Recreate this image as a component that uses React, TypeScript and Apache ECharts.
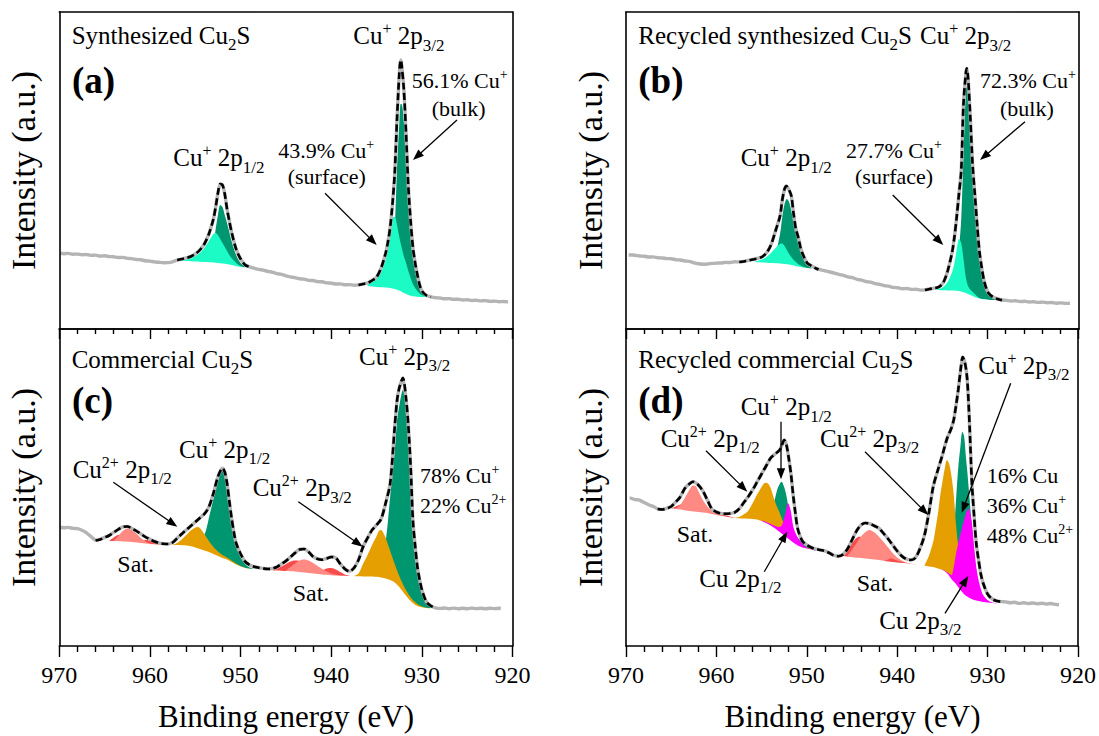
import React, { useEffect, useRef } from "react";
import * as echarts from "echarts";

// ---------- DATA (energy eV, intensity in arbitrary units) ----------
// Panel (a) Synthesized Cu2S
const A_raw = [[969.9,75.7],[969.5,75.3],[969,75.6],[968.5,74.8],[968,74.9],[967.5,74.2],[967,74.5],[966.5,73.6],[966,73.9],[965.5,72.9],[965,73.2],[964.5,72.4],[964,72.3],[963.5,71.5],[963,71.6],[962.5,70.6],[962,70.4],[961.5,69.5],[961,69.3],[960.5,68.2],[960,67.9],[959.5,67.1],[959,66.7],[958.5,66.3],[958,66.4],[957.5,67.2],[957,68.8],[956.5,69.9],[956,71.1],[955.5,72.4],[955,75.2],[954.5,79.1],[954,85.2],[953.5,95.1],[953,110.2],[952.75,122.1],[952.5,136.2],[952.25,145.1],[952,144.2],[951.75,135.1],[951.5,120.2],[951.25,108.1],[951,97.2],[950.5,80.1],[950,70.2],[949.5,64.3],[949,62.1],[948.5,60.8],[948,59.6],[947.5,58.9],[947,57.6],[946.5,56.9],[946,55.4],[945.5,54.6],[945,53.2],[944.5,52.1],[944,51.3],[943.5,50.2],[943,49.8],[942.5,48.6],[942,48.5],[941.5,47.4],[941,47.2],[940.5,46.1],[940,45.8],[939.5,45.0],[939,45.1],[938.5,44.2],[938,44.4],[937.5,43.8],[937,44.1],[936.5,45.1],[936,46.1],[935.5,48.6],[935,52.1],[934.5,61.1],[934,76.1],[933.75,87.1],[933.5,102.1],[933.25,125.1],[933,156.1],[932.75,210.2],[932.5,255.1],[932.35,269.1],[932.25,265.1],[932,240.2],[931.75,195.1],[931.5,142.1],[931.25,108.1],[931,82.1],[930.75,66.1],[930.5,54.1],[930.25,44.2],[930,38.1],[929.5,33.6],[929,32.1],[928.5,31.2],[928,31.0],[927.5,30.2],[927,30.4],[926.5,29.6],[926,29.8],[925.5,29.0],[925,29.3],[924.5,28.5],[924,28.8],[923.5,28.1],[923,28.4],[922.5,27.6],[922,27.9],[921.5,27.3],[921,27.5],[920.5,27.1]];
const A_bg1 = [[957,68.5],[956,68],[955,67.5],[954,67],[953,66.5],[952.5,66],[952,65.5],[951.5,65],[951,64],[950.5,63],[950,62],[949.5,61.5],[949,61]];
const A_env1 = [[957,69],[956.5,70],[956,71],[955.5,72.5],[955,75],[954.5,79],[954,85],[953.5,95],[953,110],[952.75,122],[952.5,136],[952.25,145],[952,144],[951.75,135],[951.5,120],[951.25,108],[951,97],[950.5,80],[950,70],[949.5,64],[949,62]];
const A_surf1 = [[956.5,68.3],[956,69.5],[955.5,71],[955,73],[954.5,76],[954,81],[953.5,88],[953,95],[952.75,96],[952.5,94],[952.25,90],[952,86],[951.75,82],[951.5,78],[951.25,74],[951,71],[950.5,66],[950,63],[949.5,61.5]];
const A_bulk1 = [[954,67],[953.5,72],[953,84],[952.75,100],[952.5,114],[952.25,124],[952,122],[951.75,114],[951.5,106],[951.25,97],[951,88],[950.5,74],[950,66],[949.5,62]];
const A_bg2 = [[937,44],[936,43],[935,42],[934,41.5],[933.5,41],[933,40],[932.5,38.5],[932,36],[931.5,34],[931,32.8],[930.5,32.3],[930,32],[929,31.8]];
const A_env2 = [[937,44],[936.5,45],[936,46],[935.5,48.5],[935,52],[934.5,61],[934,76],[933.75,87],[933.5,102],[933.25,125],[933,156],[932.75,210],[932.5,255],[932.35,269],[932.25,265],[932,240],[931.75,195],[931.5,142],[931.25,108],[931,82],[930.75,66],[930.5,54],[930.25,44],[930,38],[929.5,33.5],[929,32]];
const A_surf2 = [[936,45],[935.5,47],[935,50],[934.5,57],[934,70],[933.75,82],[933.5,98],[933.25,112],[933,112],[932.75,104],[932.5,92],[932.25,82],[932,73],[931.75,66],[931.5,58],[931.25,51],[931,45],[930.75,41],[930.5,38],[930.25,35.5],[930,34],[929.5,32.5]];
const A_bulk2 = [[934,41.5],[933.5,58],[933.25,74],[933,100],[932.75,160],[932.5,205],[932.35,225],[932.25,225],[932,208],[931.75,168],[931.5,122],[931.25,92],[931,71],[930.75,58],[930.5,48],[930.25,40],[930,36],[929.5,33]];

// Panel (b) Recycled synthesized Cu2S
const B_raw = [[969.7,74.2],[969.5,74.0],[969,73.8],[968.5,73.0],[968,72.8],[967.5,72.0],[967,72.1],[966.5,71.2],[966,71.0],[965.5,70.4],[965,70.3],[964.5,69.3],[964,69.0],[963.5,68.0],[963,67.6],[962.5,66.2],[962,65.3],[961.5,64.8],[961,65.0],[960.5,65.6],[960,65.9],[959.5,66.0],[959,66.6],[958.5,66.5],[958,67.2],[957.5,67.1],[957,67.6],[956.5,68.6],[956,69.6],[955.5,70.6],[955,72.1],[954.5,76.1],[954,84.1],[953.5,98.1],[953,113.1],[952.75,129.1],[952.5,140.1],[952.3,143.1],[952,139.1],[951.75,133.1],[951.5,115.1],[951.25,100.1],[951,92.1],[950.75,82.1],[950.5,75.1],[950,66.1],[949.5,63.1],[949,60.6],[948.5,59.2],[948,58.1],[947.5,57.0],[947,55.9],[946.5,54.6],[946,53.6],[945.5,52.1],[945,51.3],[944.5,49.7],[944,48.9],[943.5,47.5],[943,46.8],[942.5,45.4],[942,44.7],[941.5,43.4],[941,42.8],[940.5,41.6],[940,41.2],[939.5,40.3],[939,40.5],[938.5,39.6],[938,39.7],[937.5,38.9],[937,39.1],[936.5,40.1],[936,40.9],[935.5,41.9],[935,46.1],[934.5,58.1],[934,77.1],[933.75,92.1],[933.5,112.1],[933.25,135.1],[933,158.1],[932.75,225.1],[932.5,255.1],[932.4,260.6],[932.25,252.1],[932,212.1],[931.75,165.1],[931.5,135.1],[931.25,105.1],[931,78.1],[930.75,62.1],[930.5,49.1],[930.25,41.1],[930,36.1],[929.5,32.1],[929,30.1],[928.5,29.0],[928,28.6],[927.5,28.0],[927,28.2],[926.5,27.4],[926,27.7],[925.5,27.0],[925,27.3],[924.5,26.6],[924,26.9],[923.5,26.2],[923,26.5],[922.5,25.8],[922,26.1],[921.5,25.6],[921,25.8]];
const B_bg1 = [[957.5,67],[956,67],[955,66.5],[954,66],[953,65.5],[952.5,65],[952,64.5],[951.5,63.5],[951,62.5],[950.5,61.5],[950,61],[949.5,60.5],[949,60],[948.75,59.5]];
const B_env1 = [[957.5,67],[957,67.5],[956.5,68.5],[956,69.5],[955.5,70.5],[955,72],[954.5,76],[954,84],[953.5,98],[953,113],[952.75,129],[952.5,140],[952.3,143],[952,139],[951.75,133],[951.5,115],[951.25,100],[951,92],[950.75,82],[950.5,75],[950,66],[949.5,63],[949,60.5],[948.75,59.5]];
const B_surf1 = [[956,67],[955.5,68],[955,69.5],[954.5,72],[954,76],[953.5,81],[953,85],[952.75,85.5],[952.5,83],[952.25,79],[952,75],[951.75,72],[951.5,69],[951.25,67],[951,65],[950.5,62.5],[950,61]];
const B_bulk1 = [[954,66.5],[953.5,75],[953,95],[952.75,112],[952.5,125],[952.25,130],[952,127],[951.75,118],[951.5,108],[951.25,98],[951,88],[950.75,79],[950.5,72],[950,64],[949.5,61]];
const B_bg2 = [[937,39],[936,39],[935,38.8],[934,38.5],[933.5,38.2],[933,37.5],[932.5,36],[932,34],[931.5,32],[931,30.5],[930.5,29.8],[930,29.3],[929.5,29],[929,28.8],[928.5,28.6]];
const B_env2 = [[937,39],[936.5,40],[936,40.8],[935.5,41.8],[935,46],[934.5,58],[934,77],[933.75,92],[933.5,112],[933.25,135],[933,158],[932.75,225],[932.5,255],[932.4,260.7],[932.25,252],[932,212],[931.75,165],[931.5,135],[931.25,105],[931,78],[930.75,62],[930.5,49],[930.25,41],[930,36],[929.5,32],[929,30],[928.5,28.8]];
const B_surf2 = [[936.5,39],[936,39.2],[935.5,40],[935,42],[934.5,47],[934,57],[933.75,66],[933.5,79],[933.25,90],[933,86],[932.75,70],[932.5,52],[932.25,43],[932,39.5],[931.5,35],[931,31],[930.5,29.8],[930,29.3]];
const B_bulk2 = [[934,38.5],[933.5,60],[933.25,80],[933,110],[932.75,175],[932.5,236],[932.4,242],[932.25,240],[932,205],[931.75,160],[931.5,128],[931.25,100],[931,76],[930.75,60],[930.5,47],[930.25,39],[930,35],[929.5,31],[929,29.5]];

// Panel (c) Commercial Cu2S
const C_raw = [[969.9,118.7],[969.5,118.2],[969,118.6],[968.5,117.6],[968,117.3],[967.5,115.8],[967,113.2],[966.5,109.4],[966,105.9],[965.5,106.6],[965,108.6],[964.5,110.6],[964,113.6],[963.5,116.6],[963,119.1],[962.5,119.6],[962,117.6],[961.5,115.1],[961,112.1],[960.5,109.1],[960,106.8],[959.5,104.6],[959,103.1],[958.5,102.3],[958,102.1],[957.5,103.6],[957,107.8],[956.5,112.1],[956,116.1],[955.5,120.1],[955,124.1],[954.5,128.1],[954,132.1],[953.5,139.1],[953,152.8],[952.5,169.4],[952,177.8],[951.75,174.1],[951.5,162.8],[951.25,145.1],[951,128.1],[950.75,114.1],[950.5,103.1],[950,92.1],[949.5,84.4],[949,81.1],[948.5,79.4],[948,78.4],[947.5,77.6],[947,77.1],[946.5,77.6],[946,79.1],[945.5,82.1],[945,85.1],[944.5,89.1],[944,93.1],[943.5,96.6],[943,97.1],[942.5,94.1],[942,89.4],[941.5,87.1],[941,86.4],[940.5,87.6],[940,89.1],[939.5,88.1],[939,82.1],[938.5,77.1],[938,74.6],[937.5,78.1],[937,86.1],[936.5,99.1],[936,108.1],[935.5,116.1],[935,121.1],[934.5,127.1],[934,143.1],[933.5,162.8],[933,219.4],[932.75,245.1],[932.5,258.1],[932.1,268.1],[931.75,247.1],[931.5,220.1],[931.25,180.1],[931,126.1],[930.75,100.1],[930.5,79.1],[930.25,66.1],[930,56.1],[929.5,44.1],[929,40.1],[928.5,38.2],[928,37.6],[927.5,38.0],[927,37.3],[926.5,37.9],[926,37.2],[925.5,37.8],[925,37.3],[924.5,37.9],[924,37.4],[923.5,37.7],[923,37.2],[922.5,37.8],[922,37.4],[921.5,37.7],[921.3,37.5]];
const C_env = [[966,105.5],[965.5,106.5],[965,108.5],[964.5,110.5],[964,113.5],[963.5,116.5],[963,119],[962.5,119.5],[962,117.5],[961.5,115],[961,112],[960.5,109],[960,106.7],[959.5,104.5],[959,103],[958.5,102.2],[958,102],[957.5,103.5],[957,107.7],[956.5,112],[956,116],[955.5,120],[955,124],[954.5,128],[954,132],[953.5,139],[953,152.7],[952.5,169.3],[952,177.7],[951.75,174],[951.5,162.7],[951.25,145],[951,128],[950.75,114],[950.5,103],[950,92],[949.5,84.3],[949,81],[948.5,79.3],[948,78.3],[947.5,77.5],[947,77],[946.5,77.5],[946,79],[945.5,82],[945,85],[944.5,89],[944,93],[943.5,96.5],[943,97],[942.5,94],[942,89.3],[941.5,87],[941,86.3],[940.5,87.5],[940,89],[939.5,88],[939,82],[938.5,77],[938,74.5],[937.5,78],[937,86],[936.5,99],[936,108],[935.5,116],[935,121],[934.5,127],[934,143],[933.5,162.7],[933,219.3],[932.75,245],[932.5,258],[932.1,268],[931.75,247],[931.5,220],[931.25,180],[931,126],[930.75,100],[930.5,79],[930.25,66],[930,56],[929.5,44],[929,40],[928.5,38]];
const C_bg = [[966,105.5],[965,105.3],[964,105],[963,104.5],[962,104],[961,103],[960,102],[959,101.5],[958,101],[957,101],[956,100.5],[955.5,99.8],[955,98.5],[954.5,97],[954,95.5],[953.5,94],[953,92],[952.5,90],[952,88],[951.5,86.5],[951,84],[950.5,81.5],[950,79.5],[949.5,78],[949,77.3],[948,76.5],[947,76],[946,75.5],[945,75],[944,74.5],[943,73.5],[942,72.5],[941,71.5],[940,70.8],[939,70.2],[938,70],[937,69.8],[936,69.5],[935,69.2],[934.5,68.5],[934,67.5],[933.5,66],[933,63.5],[932.5,59],[932,53],[931.5,47.5],[931,43],[930.5,40],[930,38.7],[929.5,38],[929,37.8],[928.5,37.6]];
const C_satA_red = [[964.5,105],[964,108.5],[963.5,111],[963,110],[962.5,107],[962,105],[961.5,103.2],[961,103]];
const C_satB_red = [[961.5,103.2],[961,104.5],[960.5,106],[960,105.5],[959.5,103.5],[959,102],[958.5,101.3],[958,101]];
const C_satA_pink = [[964,105],[963.5,110],[963,115],[962.5,117.5],[962,116],[961.5,112.5],[961,108],[960.5,104.5],[960,102.5],[959.5,101.8]];
const C_cu2_12 = [[957.5,101.2],[957,103],[956.5,106.5],[956,111],[955.5,115.5],[955,118.5],[954.75,119],[954.5,118],[954,112],[953.5,105],[953,99],[952.5,94.5],[952,91],[951.5,88.5],[951,85.5],[950.5,82.5],[950,80],[949.5,78.3],[949,77.3]];
const C_cu1_12 = [[955,98.5],[954.5,103],[954,111],[953.75,118],[953.5,128],[953,147],[952.5,166],[952,175],[951.75,171],[951.5,158],[951.25,140],[951,124],[950.75,110],[950.5,100],[950,89],[949.5,82],[949,78.5],[948.5,77]];
const C_satC_red = [[946.5,75.8],[946,77],[945.5,79.5],[945,82],[944.5,84.5],[944,85.5],[943.5,85],[943,83],[942.5,80],[942,77],[941.5,74.5],[941,72.5],[940.5,71.2]];
const C_satD_red = [[941.5,72.5],[941,75.5],[940.5,77.5],[940,78],[939.5,76.5],[939,74],[938.5,71.5],[938,70.2]];
const C_satC_pink = [[945,75.5],[944.5,79],[944,82.5],[943.5,85.5],[943,86.5],[942.5,85.5],[942,83],[941.5,80],[941,77],[940.5,74.5],[940,72.5],[939.5,71.2],[939,70.5]];
const C_cu2_32 = [[937.5,70],[937,72.5],[936.5,82],[936,91],[935.5,101],[935,110],[934.75,115],[934.5,116],[934.25,113],[934,108],[933.5,95],[933,82],[932.5,70],[932,60],[931.5,52],[931,46],[930.5,42],[930,39.5],[929.5,38.2],[929,37.8]];
const C_cu1_32 = [[935,69.2],[934.5,80],[934,105],[933.75,125],[933.5,150],[933,195],[932.75,225],[932.5,240],[932.1,256],[931.75,242],[931.5,215],[931.25,175],[931,122],[930.75,96],[930.5,76],[930.25,62],[930,52],[929.5,42],[929,38.5]];

// Panel (d) Recycled commercial Cu2S
const D_raw = [[969.6,147.7],[969.5,147.9],[969,146.4],[968.5,145.9],[968,143.4],[967.5,141.2],[967,139.6],[966.5,137.2],[966,136.6],[965.5,137.6],[965,139.6],[964.5,144.1],[964,149.1],[963.5,157.6],[963,162.1],[962.6,164.4],[962,161.1],[961.5,155.1],[961,146.1],[960.5,137.1],[960,134.1],[959.5,132.6],[959,132.4],[958.5,132.6],[958,133.6],[957.5,137.1],[957,143.1],[956.5,149.1],[956,156.1],[955.5,164.1],[955,172.1],[954.5,180.1],[954,188.1],[953.5,192.1],[953,196.1],[952.75,201.1],[952.5,206.1],[952.25,201.1],[952,188.1],[951.75,172.1],[951.5,150.1],[951.25,132.1],[951,117.1],[950.5,105.1],[950,101.1],[949.5,98.6],[949,97.1],[948.5,96.1],[948,95.1],[947.5,93.1],[947,90.6],[946.5,89.9],[946,91.6],[945.5,97.1],[945,106.1],[944.5,115.1],[944,121.1],[943.5,123.1],[943,122.1],[942.5,120.1],[942,117.6],[941.5,112.6],[941,107.1],[940.5,101.1],[940,95.1],[939.5,90.1],[939,87.1],[938.5,86.1],[938,88.1],[937.5,97.1],[937,110.1],[936.5,133.1],[936,160.1],[935.5,176.1],[935,191.1],[934.5,207.1],[934,218.1],[933.75,226.1],[933.5,240.1],[933.25,256.1],[933,275.1],[932.75,289.1],[932.5,283.1],[932.25,266.1],[932,222.1],[931.75,165.1],[931.5,131.1],[931.25,102.1],[931,86.1],[930.75,72.1],[930.5,63.1],[930,52.1],[929.5,47.1],[929,45.1],[928.5,44.4],[928,44.1],[927.5,43.3],[927,43.8],[926.5,42.6],[926,43.2],[925.5,42.4],[925,43.0],[924.5,42.2],[924,42.7],[923.5,41.9],[923,42.5],[922.5,41.6],[922.1,41.3]];
const D_env = [[966.5,137],[966,136.5],[965.5,137.5],[965,139.5],[964.5,144],[964,149],[963.5,157.5],[963,162],[962.6,164.3],[962,161],[961.5,155],[961,146],[960.5,137],[960,134],[959.5,132.5],[959,132.3],[958.5,132.5],[958,133.5],[957.5,137],[957,143],[956.5,149],[956,156],[955.5,164],[955,172],[954.5,180],[954,188],[953.5,192],[953,196],[952.75,201],[952.5,206],[952.25,201],[952,188],[951.75,172],[951.5,150],[951.25,132],[951,117],[950.5,105],[950,101],[949.5,98.5],[949,97],[948.5,96],[948,95],[947.5,93],[947,90.5],[946.5,89.8],[946,91.5],[945.5,97],[945,106],[944.5,115],[944,121],[943.5,123],[943,122],[942.5,120],[942,117.5],[941.5,112.5],[941,107],[940.5,101],[940,95],[939.5,90],[939,87],[938.5,86],[938,88],[937.5,97],[937,110],[936.5,133],[936,160],[935.5,176],[935,191],[934.5,207],[934,218],[933.75,226],[933.5,240],[933.25,256],[933,275],[932.75,289],[932.5,283],[932.25,266],[932,222],[931.75,165],[931.5,131],[931.25,102],[931,86],[930.75,72],[930.5,63],[930,52],[929.5,47],[929,45],[928.5,44.3]];
const D_bg = [[966.5,137],[966,137],[965,137.5],[964,136.5],[963,135],[962,134],[961,133],[960,131],[959,129.5],[958,128],[957,127.5],[956,127],[955.5,126.5],[955,125],[954.5,123],[954,120.5],[953.5,117.5],[953,114],[952.5,110.5],[952,107],[951.5,103.5],[951,100.5],[950.5,98.5],[950,97.5],[949.5,96.5],[949,95],[948,93.5],[947,91.5],[946,90],[945,88.8],[944,88],[943,87],[942,86],[941,84.5],[940,83.5],[939,82.7],[938,81.5],[937,80.5],[936.5,79.5],[936,79],[935.5,77.5],[935,76],[934.5,73],[934,67],[933.5,62],[933,56],[932.5,51],[932,48],[931.5,46],[931,45],[930.5,44],[930,43.5],[929.5,43],[929,42.7],[928.5,42.5]];
const D_satA_red = [[965,137.5],[964.5,139.5],[964,141.5],[963.5,142],[963,140.5],[962.5,138],[962,135.5],[961.5,134.2],[961,133]];
const D_satB_red = [[960.5,132],[960,134],[959.5,133],[959,131],[958.5,129.5],[958,128.2]];
const D_satA_pink = [[964.5,137.5],[964,141],[963.5,148],[963,156],[962.6,160.5],[962.3,160],[962,155],[961.5,146],[961,139.5],[960.5,135],[960,132],[959.5,130.5],[959,129.5]];
const D_cu1_12 = [[954.5,123.5],[954,130],[953.75,140],[953.5,148],[953.25,157],[953,162],[952.8,164.3],[952.5,159],[952.25,150],[952,137],[951.75,125],[951.5,116],[951.25,111],[951,108],[950.5,104.5],[950,100],[949.5,97.5],[949,95.5]];
const D_cu2_12 = [[958,128.2],[957.5,129],[957,131.5],[956.5,135],[956,142.7],[955.5,151.5],[955,159],[954.75,162.5],[954.5,163.3],[954.25,162],[954,158],[953.75,151],[953.5,144],[953,133],[952.5,122],[952,114],[951.5,107.5],[951,103],[950.5,100],[950,98.5],[949.5,97]];
const D_cu0_12 = [[955,125.5],[954.5,124],[954,122],[953.5,120],[953,119],[952.75,121],[952.5,128],[952.25,137],[952.1,142.7],[952,142],[951.75,134],[951.5,119.5],[951.25,113],[951,108.5],[950.5,102],[950,98.2],[949.5,96.8],[949,95.2]];
const D_satC_red = [[946.5,90.3],[946,92],[945.5,97],[945,103],[944.5,108],[944.2,109.3],[944,109],[943.5,104],[943,97],[942.5,92],[942,88.5],[941.5,86],[941,85]];
const D_satC_pink = [[945.5,90],[945,96],[944.5,103],[944,109.5],[943.5,114],[943.1,116],[942.5,113.5],[942,109],[941.5,104],[941,98.5],[940.5,93],[940,88.5],[939.5,85.5],[939,83.5],[938.5,82.2],[938,81.5]];
const D_satD_red = [[941.5,84.8],[941,86.5],[940.7,87.7],[940.5,87.3],[940,85.5],[939.5,84],[939,83],[938.5,82]];
const D_cu1_32 = [[935,76],[934.5,78],[934,90],[933.75,110],[933.5,145],[933.25,178],[933,200],[932.8,214.3],[932.6,210],[932.4,189],[932.25,175],[932,148],[931.75,120],[931.5,95],[931.25,75],[931,62],[930.5,50],[930,45],[929.5,43]];
const D_cu2_32 = [[937,80.5],[936.5,90],[936,105],[935.75,118],[935.5,132],[935.25,150],[935,164],[934.75,177],[934.5,186],[934.25,182],[934,170],[933.75,152],[933.5,122],[933.25,100],[933,85],[932.5,70],[932,60],[931.5,52],[931,47.5],[930.5,45],[930,44]];
const D_cu0_32 = [[935,76.5],[934.5,74],[934,71],[933.75,79],[933.5,92],[933.25,103],[933,112],[932.8,119.3],[932.5,129],[932.1,137.7],[932,136],[931.75,124],[931.5,100],[931.25,79],[931,66],[930.75,57],[930.5,51],[930,46],[929.5,43.5],[929,42.8]];

const X_TICKS = { min: 920, max: 970, interval: 10 };

// ---------- STYLE ----------
const FONT = '"Liberation Serif","Times New Roman",Times,serif';
const COL = {
  teal: "#1CFBC6",
  green: "#00966F",
  orange: "#E69F00",
  magenta: "#FF00FF",
  red: "#F84B4B",
  pink: "#FF8A84",
  raw: "#B4B4B4",
};
const GRIDS = [
  { left: 59.3, top: 12, width: 453.3, height: 317 },
  { left: 626, top: 12, width: 453, height: 317 },
  { left: 59.3, top: 329, width: 453.3, height: 317 },
  { left: 626, top: 329, width: 453, height: 317 },
];

function comp(g: number, data: number[][], color: string): any {
  return {
    type: "line", xAxisIndex: 2 * g, yAxisIndex: 2 * g, data, smooth: 0.3,
    symbol: "none", silent: true, lineStyle: { width: 0, opacity: 0 },
    areaStyle: { color, opacity: 1 }, z: 2,
  };
}
function bgMask(g: number, data: number[][]): any {
  return comp(g, data, "#ffffff");
}
function rawLine(g: number, data: number[][]): any {
  return {
    type: "line", xAxisIndex: 2 * g, yAxisIndex: 2 * g, data, smooth: 0.2,
    symbol: "none", silent: true, lineStyle: { color: COL.raw, width: 3.4 }, z: 3,
  };
}
function envLine(g: number, data: number[][]): any {
  return {
    type: "line", xAxisIndex: 2 * g, yAxisIndex: 2 * g, data, smooth: 0.3,
    symbol: "none", silent: true,
    lineStyle: { color: "#000", width: 2.6, type: [7, 3.5] }, z: 4,
  };
}

function xAxes(g: number, bottomPanel: boolean): any[] {
  const base = {
    gridIndex: g, type: "value", ...X_TICKS, inverse: true, z: 10,
    splitLine: { show: false },
    axisLine: { show: true, onZero: false, lineStyle: { color: "#000", width: 1.6 } },
  };
  const tickStyle = { color: "#000", width: 1.4 };
  return [
    {
      ...base, position: "bottom",
      axisTick: { show: bottomPanel, length: 11, inside: false, lineStyle: tickStyle },
      minorTick: { show: bottomPanel, splitNumber: 5, length: 6, lineStyle: tickStyle },
      axisLabel: { show: bottomPanel, fontSize: 24, fontFamily: FONT, color: "#000", margin: 17 },
    },
    {
      ...base, position: "top",
      axisTick: { show: bottomPanel, length: 10, inside: true, lineStyle: tickStyle },
      minorTick: { show: bottomPanel, splitNumber: 5, length: 5, lineStyle: tickStyle },
      axisLabel: { show: false },
    },
  ];
}
function yAxes(g: number): any[] {
  const base = {
    gridIndex: g, type: "value", min: 0, max: 317, z: 10,
    axisLine: { show: true, onZero: false, lineStyle: { color: "#000", width: 1.6 } },
    axisTick: { show: false }, axisLabel: { show: false }, splitLine: { show: false },
  };
  return [{ ...base, position: "left" }, { ...base, position: "right" }];
}

function toRich(s: string): string {
  return s
    .split(/(\{[a-z]+\|[^}]*\})/)
    .filter((p) => p.length > 0)
    .map((p) => (p.charAt(0) === "{" ? p : "{n|" + p + "}"))
    .join("");
}
function T(x: number, y: number, text: string, fs = 25, bold = false): any {
  const LH = Math.round(fs * 1.44);
  const w = bold ? "bold " : "";
  const sup = Math.round(fs * 0.62);
  const sub = Math.round(fs * 0.66);
  const mk = (size: number, extra: any) => ({
    font: w + size + "px " + FONT, fontSize: size, fontFamily: FONT,
    fontWeight: bold ? "bold" : "normal", fill: "#000", ...extra,
  });
  return {
    type: "text", x, y, z: 100, silent: true,
    style: {
      text: toRich(text),
      ...mk(fs, {}),
      align: "left", verticalAlign: "middle", lineHeight: LH,
      rich: {
        n: mk(fs, { lineHeight: LH }),
        sup: mk(sup, { verticalAlign: "top", lineHeight: sup, padding: [3, 0, 0, 0] }),
        sub: mk(sub, { verticalAlign: "bottom", lineHeight: sub }),
      },
    },
  };
}
function arrow(x1: number, y1: number, x2: number, y2: number): any[] {
  const dx = x2 - x1, dy = y2 - y1;
  const L = Math.hypot(dx, dy);
  const ux = dx / L, uy = dy / L;
  const hl = 11, hw = 4.2;
  const bx = x2 - ux * hl, by = y2 - uy * hl;
  return [
    { type: "line", z: 100, silent: true, shape: { x1, y1, x2: bx + ux * 2, y2: by + uy * 2 }, style: { stroke: "#000", lineWidth: 1.3 } },
    { type: "polygon", z: 100, silent: true, shape: { points: [[x2, y2], [bx - uy * hw, by + ux * hw], [bx + uy * hw, by - ux * hw]] }, style: { fill: "#000" } },
  ];
}
function axisTitle(x: number, y: number, text: string, rotate: boolean, fs: number): any {
  return {
    type: "text", x, y, z: 100, silent: true, rotation: rotate ? Math.PI / 2 : 0,
    style: { text, font: fs + "px " + FONT, fontSize: fs, fontFamily: FONT, fill: "#000", align: "center", verticalAlign: "middle" },
  };
}

export default function App() {
  const ref = useRef<HTMLDivElement>(null);
  useEffect(() => {
    document.body.style.margin = "0";
    if (!ref.current) return;
    const chart = echarts.init(ref.current, undefined, { renderer: "svg" });
    const option: any = {
      animation: false,
      grid: GRIDS,
      xAxis: [...xAxes(0, false), ...xAxes(1, false), ...xAxes(2, true), ...xAxes(3, true)],
      yAxis: [...yAxes(0), ...yAxes(1), ...yAxes(2), ...yAxes(3)],
      series: [
        // (a): bulk first, surface component drawn over it
        comp(0, A_bulk1, COL.green), comp(0, A_surf1, COL.teal), bgMask(0, A_bg1),
        comp(0, A_bulk2, COL.green), comp(0, A_surf2, COL.teal), bgMask(0, A_bg2),
        rawLine(0, A_raw), envLine(0, A_env1), envLine(0, A_env2),
        // (b)
        comp(1, B_bulk1, COL.green), comp(1, B_surf1, COL.teal), bgMask(1, B_bg1),
        comp(1, B_bulk2, COL.green), comp(1, B_surf2, COL.teal), bgMask(1, B_bg2),
        rawLine(1, B_raw), envLine(1, B_env1), envLine(1, B_env2),
        // (c)
        comp(2, C_satA_red, COL.red), comp(2, C_satB_red, COL.red), comp(2, C_satA_pink, COL.pink),
        comp(2, C_cu1_12, COL.green), comp(2, C_cu2_12, COL.orange),
        comp(2, C_satC_red, COL.red), comp(2, C_satD_red, COL.red), comp(2, C_satC_pink, COL.pink),
        comp(2, C_cu1_32, COL.green), comp(2, C_cu2_32, COL.orange),
        bgMask(2, C_bg), rawLine(2, C_raw), envLine(2, C_env),
        // (d)
        comp(3, D_satA_red, COL.red), comp(3, D_satB_red, COL.red), comp(3, D_satA_pink, COL.pink),
        comp(3, D_cu1_12, COL.green), comp(3, D_cu2_12, COL.orange), comp(3, D_cu0_12, COL.magenta),
        comp(3, D_satC_red, COL.red), comp(3, D_satC_pink, COL.pink), comp(3, D_satD_red, COL.red),
        comp(3, D_cu1_32, COL.green), comp(3, D_cu2_32, COL.orange), comp(3, D_cu0_32, COL.magenta),
        bgMask(3, D_bg), rawLine(3, D_raw), envLine(3, D_env),
      ],
      graphic: [
        axisTitle(23, 170.5, "Intensity (a.u.)", true, 34),
        axisTitle(23, 487.5, "Intensity (a.u.)", true, 34),
        axisTitle(590, 170.5, "Intensity (a.u.)", true, 34),
        axisTitle(590, 487.5, "Intensity (a.u.)", true, 34),
        axisTitle(286, 716, "Binding energy (eV)", false, 31),
        axisTitle(852.5, 716, "Binding energy (eV)", false, 31),
        // (a)
        T(71.7, 35, "Synthesized Cu{sub|2}S"),
        T(72, 80, "(a)", 37, true),
        T(353.3, 35.8, "Cu{sup|+} 2p{sub|3/2}"),
        T(411.7, 80, "56.1% Cu{sup|+}", 22),
        T(431.7, 108, "(bulk)", 22),
        T(173.3, 157.5, "Cu{sup|+} 2p{sub|1/2}"),
        T(278.3, 150, "43.9% Cu{sup|+}", 22),
        T(287.7, 176, "(surface)", 22),
        ...arrow(457, 120, 413, 160),
        ...arrow(325, 193.3, 376.7, 245),
        // (b)
        T(638.3, 35, "Recycled synthesized Cu{sub|2}S"),
        T(920, 35.8, "Cu{sup|+} 2p{sub|3/2}"),
        T(638.3, 80, "(b)", 37, true),
        T(980, 80, "72.3% Cu{sup|+}", 22),
        T(1000, 108, "(bulk)", 22),
        ...arrow(1025, 121.7, 980, 160),
        T(740.7, 157.5, "Cu{sup|+} 2p{sub|1/2}"),
        T(846, 150, "27.7% Cu{sup|+}", 22),
        T(855, 176, "(surface)", 22),
        ...arrow(892.7, 195, 943.3, 245),
        // (c)
        T(71.7, 359, "Commercial Cu{sub|2}S"),
        T(72, 400, "(c)", 37, true),
        T(359, 356, "Cu{sup|+} 2p{sub|3/2}"),
        T(179, 449, "Cu{sup|+} 2p{sub|1/2}"),
        T(72.7, 469, "Cu{sup|2+} 2p{sub|1/2}"),
        ...arrow(113.3, 482.3, 177.3, 526.7),
        T(252.7, 487.5, "Cu{sup|2+} 2p{sub|3/2}"),
        ...arrow(298.3, 501.7, 362.7, 546.7),
        T(420, 475, "78% Cu{sup|+}", 22),
        T(420, 505, "22% Cu{sup|2+}", 22),
        T(117.3, 564, "Sat.", 24),
        T(292.7, 592.5, "Sat.", 24),
        // (d)
        T(638.3, 359, "Recycled commercial Cu{sub|2}S"),
        T(638.3, 400, "(d)", 37, true),
        T(978.3, 365, "Cu{sup|+} 2p{sub|3/2}"),
        ...arrow(1010.7, 383.3, 961.7, 512.7),
        T(740.7, 406.5, "Cu{sup|+} 2p{sub|1/2}"),
        ...arrow(781, 421.7, 781, 479.3),
        T(660.7, 438, "Cu{sup|2+} 2p{sub|1/2}"),
        ...arrow(706, 450.7, 747.3, 491.7),
        T(820, 438, "Cu{sup|2+} 2p{sub|3/2}"),
        ...arrow(865, 451.7, 928.3, 515),
        T(986.7, 475, "16% Cu", 22),
        T(986.7, 505.5, "36% Cu{sup|+}", 22),
        T(986.7, 535.5, "48% Cu{sup|2+}", 22),
        T(676.7, 534, "Sat.", 24),
        T(856.7, 582.5, "Sat.", 24),
        T(699.3, 578, "Cu 2p{sub|1/2}"),
        ...arrow(764.3, 571.7, 787.3, 531.7),
        T(879.3, 620, "Cu 2p{sub|3/2}"),
        ...arrow(945, 613.3, 968.3, 576),
      ],
    };
    chart.setOption(option);
    return () => chart.dispose();
  }, []);
  return <div ref={ref} style={{ width: 1099, height: 736 }} />;
}
